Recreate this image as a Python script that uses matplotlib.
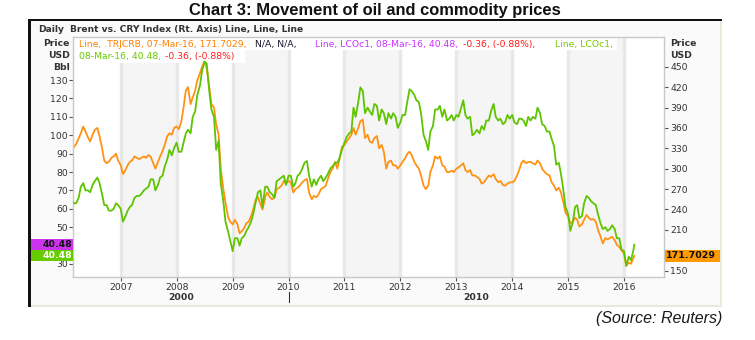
import matplotlib
matplotlib.use("Agg")
import matplotlib.pyplot as plt
import matplotlib.dates as mdates
import matplotlib.transforms as mtransforms
from matplotlib.patches import Rectangle
import pandas as pd

# ---------------------------------------------------------------- data
# semi-monthly observations (1st and 15th), plus the last quote
dates = list(pd.date_range("2006-02-15", "2016-03-01", freq="SMS")) + [pd.Timestamp("2016-03-08")]

brent = (
    [64, 63, 63, 66, 72, 74, 70, 70, 69, 73, 75, 77, 74, 68, 62, 62, 59, 59, 60, 63, 62]            # 2006
    + [60, 53, 56, 59, 61, 62, 66, 67, 67, 68, 70, 71, 72, 76, 76, 70, 73, 77, 78, 83, 87, 92, 89, 93]      # 2007
    + [96, 91, 91, 96, 101, 103, 101, 110, 113, 122, 127, 135, 140, 139, 124, 114, 110, 92, 97, 74, 64, 53, 48, 43]  # 2008
    + [37, 44, 44, 40, 44, 45, 48, 50, 53, 57, 64, 69, 70, 61, 72, 72, 69, 68, 66, 75, 76, 77, 78, 73]      # 2009
    + [78, 78, 72, 74, 78, 79, 82, 85, 86, 78, 72, 76, 73, 76, 78, 75, 77, 79, 82, 83, 85, 85, 88, 92]      # 2010
    + [96, 99, 101, 102, 115, 110, 118, 126, 124, 112, 115, 113, 111, 117, 116, 108, 114, 112, 106, 112, 109, 112, 110, 104]  # 2011
    + [107, 111, 111, 118, 125, 124, 122, 119, 118, 112, 100, 97, 92, 102, 105, 114, 114, 116, 110, 114, 108, 109, 111, 108]  # 2012
    + [111, 110, 115, 119, 111, 109, 110, 100, 101, 103, 101, 105, 103, 108, 108, 113, 117, 110, 108, 109, 106, 107, 111, 109]  # 2013
    + [111, 107, 106, 109, 109, 108, 105, 110, 108, 110, 109, 115, 112, 106, 105, 102, 102, 98, 94, 84, 85, 79, 70, 61]  # 2014
    + [57, 48, 53, 61, 62, 55, 56, 63, 67, 66, 64, 63, 62, 57, 52, 49, 50, 48, 49, 51, 49, 44, 44, 38]      # 2015
    + [37, 29, 34, 32, 37, 40.48]                                                                      # 2016
)

crb = (
    [325, 332, 336, 345, 352, 362, 355, 346, 340, 350, 357, 360, 348, 330, 312, 308, 310, 316, 318, 322, 312]  # 2006
    + [305, 292, 298, 305, 310, 312, 318, 316, 314, 316, 318, 316, 320, 318, 308, 300, 310, 318, 326, 335, 348, 352, 350, 360]  # 2007
    + [362, 358, 370, 390, 415, 420, 395, 405, 415, 430, 440, 450, 458, 448, 420, 395, 390, 365, 350, 300, 270, 250, 230, 222]  # 2008
    + [218, 225, 218, 205, 208, 212, 220, 222, 230, 240, 255, 258, 248, 240, 258, 265, 258, 255, 258, 270, 272, 275, 282, 278]  # 2009
    + [282, 280, 265, 270, 272, 275, 280, 283, 285, 265, 255, 260, 258, 262, 270, 272, 275, 285, 295, 300, 310, 300, 315, 332]  # 2010
    + [335, 340, 345, 350, 360, 350, 360, 370, 372, 345, 350, 340, 338, 345, 348, 330, 335, 325, 300, 310, 312, 305, 305, 300]  # 2011
    + [305, 310, 315, 322, 325, 320, 310, 305, 300, 290, 275, 270, 275, 295, 305, 318, 315, 318, 305, 303, 295, 295, 297, 295]  # 2012
    + [300, 302, 305, 308, 298, 295, 298, 290, 290, 288, 285, 278, 280, 285, 290, 288, 292, 285, 280, 282, 276, 275, 278, 280]  # 2013
    + [280, 282, 290, 298, 308, 312, 308, 310, 310, 308, 306, 312, 308, 300, 295, 292, 290, 280, 275, 268, 272, 265, 250, 235]  # 2014
    + [230, 220, 222, 228, 225, 215, 218, 225, 232, 228, 225, 226, 222, 210, 200, 190, 198, 196, 198, 200, 195, 188, 185, 180]  # 2015
    + [175, 157, 162, 160, 168, 171.7029]                                                              # 2016
)

brent_last = 40.48
crb_last = 171.7029
left_ticks = list(range(30, 131, 10))
right_ticks = list(range(150, 451, 30))
left_hidden = [40]      # sits under the last-value tags
right_hidden = [180]
shaded_years = [2007, 2009, 2011, 2013, 2015]
grid_years = list(range(2007, 2017))

header = "Brent vs. CRY Index (Rt. Axis) Line, Line, Line"
legend_line1 = [
    ("Line, .TRJCRB, 07-Mar-16, 171.7029,", "#ff8000", 79),
    ("N/A, N/A,", "#1a1a33", 255),
    ("Line, LCOc1, 08-Mar-16, 40.48,", "#cc33ff", 315),
    ("-0.36, (-0.88%),", "#ff1a1a", 463),
    ("Line, LCOc1,", "#77cc00", 555),
]
legend_line2 = [
    ("08-Mar-16, 40.48,", "#66cc00", 79),
    ("-0.36, (-0.88%)", "#ff1a1a", 165),
]

# ---------------------------------------------------------------- layout
W, H, DPI = 755, 340, 100
fig = plt.figure(figsize=(W / DPI, H / DPI), dpi=DPI)
fig.patch.set_facecolor("white")


def fx(px):
    return px / W


def fy(py):
    return 1 - py / H


def fig_rect(x0, y0, x1, y1, color, z):
    fig.add_artist(Rectangle((fx(x0), fy(y1)), fx(x1) - fx(x0), fy(y0) - fy(y1),
                             transform=fig.transFigure, facecolor=color,
                             edgecolor="none", zorder=z))


# panel, its beige rim and the black frame
fig_rect(31, 21, 722, 307, "#ebe8dc", -3)
fig_rect(31, 21, 720, 305, "#fafafa", -2)
fig_rect(28, 19, 31, 307, "#111111", -1)
fig_rect(28, 19, 722, 21, "#111111", -1)

pl, pr, pt, pb = 73, 664, 37, 277
ax = fig.add_axes([fx(pl), fy(pb), fx(pr) - fx(pl), fy(pt) - fy(pb)])
ax2 = ax.twinx()
ax.set_zorder(ax2.get_zorder() + 1)
ax.patch.set_visible(False)
ax2.patch.set_visible(True)
ax2.patch.set_facecolor("white")

x0 = pd.Timestamp("2006-02-23")
x1 = pd.Timestamp("2016-09-18")
ax.set_xlim(x0, x1)
ax.set_ylim(22.93, 153.4)
ax2.set_ylim(140.7, 493.7)

# alternating year bands and year gridlines
for yr in shaded_years:
    ax2.axvspan(pd.Timestamp(f"{yr}-01-01"), pd.Timestamp(f"{yr + 1}-01-01"),
                color="#f5f5f5", lw=0, zorder=0.2)
for yr in grid_years:
    ax2.axvline(pd.Timestamp(f"{yr}-01-01"), color="#e8e8e8", lw=2.4, zorder=0.3)

# white strips behind the legend text
ax2.add_patch(Rectangle((0, 1 - 13 / 240), (617 - pl) / (pr - pl), 13 / 240,
                        transform=ax2.transAxes, facecolor="white", edgecolor="none", zorder=0.5))
ax2.add_patch(Rectangle((0, 1 - 26 / 240), (245 - pl) / (pr - pl), 13 / 240,
                        transform=ax2.transAxes, facecolor="white", edgecolor="none", zorder=0.5))

# series
ax2.plot(dates, crb, color="#ff9214", lw=1.3, zorder=2, solid_joinstyle="round")
ax.plot(dates, brent, color="#5ec400", lw=1.3, zorder=3, solid_joinstyle="round")

# spines
for s in ax.spines.values():
    s.set_color("#c8c8c8")
    s.set_linewidth(1.0)
for s in ax2.spines.values():
    s.set_visible(False)

tick_col = "#333333"
ax.set_yticks(left_ticks)
ax.set_yticklabels(["" if v in left_hidden else str(v) for v in left_ticks])
ax.tick_params(axis="y", direction="out", length=2.6, width=0.8, color="#555555",
               labelsize=6.7, labelcolor=tick_col, pad=1.2)
ax2.set_yticks(right_ticks)
ax2.set_yticklabels(["" if v in right_hidden else str(v) for v in right_ticks])
ax2.tick_params(axis="y", direction="out", length=2.9, width=0.8, color="#555555",
                labelsize=6.7, labelcolor=tick_col, pad=1.6)
ax.xaxis.set_major_locator(mdates.YearLocator())
ax.xaxis.set_major_formatter(mdates.DateFormatter("%Y"))
ax.tick_params(axis="x", direction="out", length=2.6, width=0.8, color="#555555",
               labelsize=6.7, labelcolor=tick_col, pad=1.8)

# decade row below the years
blend = mtransforms.blended_transform_factory(ax.transData, ax.transAxes)
d2010 = pd.Timestamp("2010-01-01")
ax.text(x0 + (d2010 - x0) / 2, -21 / 240, "2000", transform=blend, ha="center", va="center",
        fontsize=6.7, fontweight="bold", color=tick_col)
ax.text(d2010 + (x1 - d2010) / 2, -21 / 240, "2010", transform=blend, ha="center", va="center",
        fontsize=6.7, fontweight="bold", color=tick_col)
ax.plot([d2010, d2010], [-15 / 240, -25 / 240], transform=blend, clip_on=False,
        color="#333333", lw=0.8)

# title, header and axis captions
fig.text(fx(375), fy(10), "Chart 3: Movement of oil and commodity prices", ha="center",
         va="center", fontsize=11.9, fontweight="bold", family="Liberation Sans", color="#111111")
fig.text(fx(38), fy(29.5), "Daily", ha="left", va="center", fontsize=6.6,
         fontweight="bold", color="#333333", zorder=10)
fig.text(fx(70), fy(29.5), header, ha="left", va="center", fontsize=6.6,
         fontweight="bold", color="#333333", zorder=10)
for label, ypx in [("Price", 43), ("USD", 55), ("Bbl", 67.3)]:
    fig.text(fx(70), fy(ypx), label, ha="right", va="center", fontsize=6.7,
             fontweight="bold", color="#333333")
for label, ypx in [("Price", 43), ("USD", 55.3)]:
    fig.text(fx(670), fy(ypx), label, ha="left", va="center", fontsize=6.7,
             fontweight="bold", color="#333333")

for text, col, xpx in legend_line1:
    fig.text(fx(xpx), fy(44.5), text, ha="left", va="center", fontsize=6.7, color=col, zorder=10)
for text, col, xpx in legend_line2:
    fig.text(fx(xpx), fy(56.7), text, ha="left", va="center", fontsize=6.7, color=col, zorder=10)

# last-value tags on both axes
fig.canvas.draw()
y_b = ax.transData.transform((0, brent_last))[1]
y_c = ax2.transData.transform((0, crb_last))[1]
tag_h = 11.0 / H
yb_f = fig.transFigure.inverted().transform((0, y_b))[1]
yc_f = fig.transFigure.inverted().transform((0, y_c))[1]

fig.add_artist(Rectangle((fx(31), yb_f - tag_h / 2), fx(73) - fx(31), tag_h,
                         transform=fig.transFigure, facecolor="#cc33ee", edgecolor="none", zorder=5))
fig.add_artist(Rectangle((fx(31), yb_f - tag_h * 1.5), fx(73) - fx(31), tag_h,
                         transform=fig.transFigure, facecolor="#66cc00", edgecolor="none", zorder=5))
fig.text(fx(72), yb_f, f"{brent_last:.2f}", ha="right", va="center", fontsize=6.7,
         fontweight="bold", color="#111111", zorder=6)
fig.text(fx(72), yb_f - tag_h, f"{brent_last:.2f}", ha="right", va="center", fontsize=6.7,
         fontweight="bold", color="white", zorder=6)
fig.add_artist(Rectangle((fx(665), yc_f - tag_h * 1.15 / 2), fx(720) - fx(665), tag_h * 1.15,
                         transform=fig.transFigure, facecolor="#ff9900", edgecolor="none", zorder=5))
fig.text(fx(666), yc_f, f"{crb_last:.4f}", ha="left", va="center", fontsize=6.8,
         fontweight="bold", color="#111111", zorder=6)

fig.text(fx(722), fy(318), "(Source: Reuters)", ha="right", va="center", fontsize=11.5,
         style="italic", family="Liberation Sans", color="#1a1a1a")

fig.savefig("out.png", dpi=DPI)
